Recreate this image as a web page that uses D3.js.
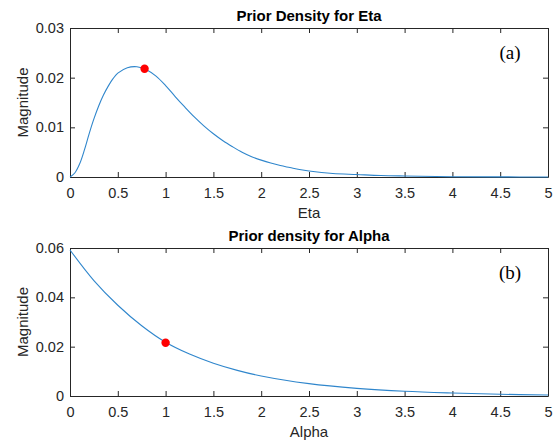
<!DOCTYPE html>
<html>
<head>
<meta charset="utf-8">
<script src="https://cdn.jsdelivr.net/npm/d3@7"></script>
<style>
  body { margin: 0; background: #fff; }
  svg { display: block; }
  .tick text { font-family: "Liberation Sans", Arial, sans-serif; font-size: 14.5px; fill: #262626; }
  .tick line, .domain { stroke: #262626; }
</style>
</head>
<body>
<svg id="canvas" width="554" height="440"></svg>
<script>
"use strict";

// values
const etaX = [0, 0.05, 0.1, 0.15, 0.2, 0.25, 0.3, 0.35, 0.4, 0.45, 0.5, 0.6, 0.7, 0.8, 0.9, 1.0, 1.1, 1.2, 1.3, 1.4, 1.5, 1.6, 1.7, 1.8, 1.9, 2.0, 2.1, 2.2, 2.3, 2.4, 2.5, 2.75, 3.0, 3.25, 3.5, 4.0, 4.5, 5.0];
const etaY = [0, 0.0008, 0.0026, 0.0054, 0.0087, 0.0117, 0.0143, 0.0165, 0.0183, 0.0198, 0.0209, 0.0220, 0.0222, 0.0216, 0.0203, 0.0184, 0.0162, 0.0141, 0.0121, 0.0103, 0.0087, 0.0073, 0.0061, 0.0050, 0.0041, 0.0034, 0.0028, 0.0023, 0.0019, 0.0015, 0.0012, 0.0007, 0.0005, 0.0003, 0.0002, 0.00006, 0.00002, 0];

const alphaX = [0, 0.25, 0.5, 0.75, 1.0, 1.25, 1.5, 1.75, 2.0, 2.5, 3.0, 3.5, 4.0, 4.5, 5.0];
const alphaY = [0.0592, 0.0468, 0.0368, 0.0285, 0.0218, 0.0170, 0.0133, 0.0104, 0.0081, 0.0050, 0.0031, 0.0019, 0.0012, 0.0007, 0.0004];

const etaPoint = [0.78, 0.0218];
const alphaPoint = [1.0, 0.0216];

const xTicks = [0, 0.5, 1, 1.5, 2, 2.5, 3, 3.5, 4, 4.5, 5];
const etaYTicks = [0, 0.01, 0.02, 0.03];
const alphaYTicks = [0, 0.02, 0.04, 0.06];

const svg = d3.select('#canvas');
const fmt = d3.format("~g");

const drawPanel = (opts) => {
    const x = d3.scaleLinear().domain([0, 5]).range([70, 548]);
    const y = d3.scaleLinear().domain(opts.yDomain).range([opts.bottom, opts.top]);

    const g = svg.append('g');

    g.append('g')
        .attr('transform', `translate(0,${opts.bottom})`)
        .call(d3.axisBottom(x).tickValues(xTicks).tickFormat(fmt)
            .tickSizeInner(-5).tickSizeOuter(0).tickPadding(11));
    g.append('g')
        .attr('transform', `translate(0,${opts.top})`)
        .call(d3.axisTop(x).tickValues(xTicks).tickFormat("")
            .tickSizeInner(-5).tickSizeOuter(0));
    g.append('g')
        .attr('transform', 'translate(70,0)')
        .call(d3.axisLeft(y).tickValues(opts.yTicks).tickFormat(fmt)
            .tickSizeInner(-5).tickSizeOuter(0).tickPadding(6));
    g.append('g')
        .attr('transform', 'translate(548,0)')
        .call(d3.axisRight(y).tickValues(opts.yTicks).tickFormat("")
            .tickSizeInner(-5).tickSizeOuter(0));

    const line = d3.line()
        .x((d, i) => x(opts.xs[i]))
        .y(d => y(d))
        .curve(d3.curveCatmullRom.alpha(0.5));

    g.append('path')
        .datum(opts.ys)
        .attr('d', line)
        .attr('fill', 'none')
        .attr('stroke', '#2f86cc')
        .attr('stroke-width', 1.1);

    g.append('circle')
        .attr('cx', x(opts.point[0]))
        .attr('cy', y(opts.point[1]))
        .attr('r', 4.2)
        .attr('fill', '#ff0000');

    g.append('text')
        .attr('x', 309).attr('y', opts.top - 7)
        .attr('text-anchor', 'middle')
        .style('font-family', '"Liberation Sans", Arial, sans-serif')
        .style('font-weight', 'bold').style('font-size', '15px')
        .text(opts.title);

    g.append('text')
        .attr('x', 309).attr('y', opts.bottom + 41)
        .attr('text-anchor', 'middle')
        .style('font-family', '"Liberation Sans", Arial, sans-serif')
        .style('font-size', '15px').style('fill', '#262626')
        .text(opts.xLabel);

    g.append('text')
        .attr('transform', `translate(28,${(opts.top + opts.bottom) / 2}) rotate(-90)`)
        .attr('text-anchor', 'middle')
        .style('font-family', '"Liberation Sans", Arial, sans-serif')
        .style('font-size', '15px').style('fill', '#262626')
        .text('Magnitude');

    g.append('text')
        .attr('x', 510).attr('y', opts.top + 31)
        .attr('text-anchor', 'middle')
        .style('font-family', '"Liberation Serif", "Times New Roman", serif')
        .style('font-size', '19px')
        .text(opts.tag);
};

drawPanel({ xs: etaX, ys: etaY, point: etaPoint, yDomain: [0, 0.03], yTicks: etaYTicks,
    top: 28, bottom: 177, title: 'Prior Density for Eta', xLabel: 'Eta', tag: '(a)' });
drawPanel({ xs: alphaX, ys: alphaY, point: alphaPoint, yDomain: [0, 0.06], yTicks: alphaYTicks,
    top: 248, bottom: 396, title: 'Prior density for Alpha', xLabel: 'Alpha', tag: '(b)' });
</script>
</body>
</html>
